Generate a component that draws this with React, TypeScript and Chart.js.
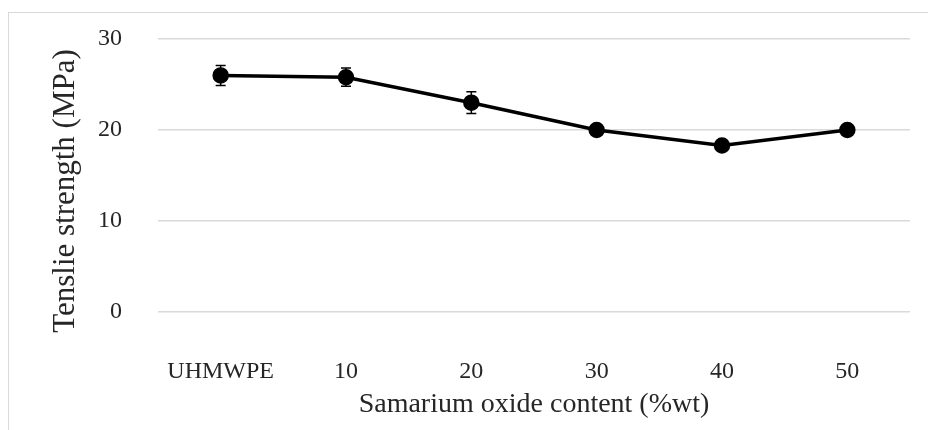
import React, { useEffect, useRef } from "react";
import { Chart, registerables } from "chart.js";

Chart.register(...registerables);

const categories = ["UHMWPE", "10", "20", "30", "40", "50"];
const strength = [26.0, 25.8, 23.0, 20.0, 18.3, 20.0];
const errors = [1.1, 1.0, 1.2, 0.5, 0.4, 0.5];
const yTicks = [0, 10, 20, 30];
const yTitle = "Tenslie strength (MPa)";
const xTitle = "Samarium oxide content (%wt)";

const FONT = "'Liberation Serif', 'Times New Roman', serif";

const errorBarPlugin = {
  id: "errorBars",
  beforeDatasetsDraw(chart: any) {
    const { ctx } = chart;
    const yScale = chart.scales.y;
    const meta = chart.getDatasetMeta(0);
    ctx.save();
    ctx.strokeStyle = "#000";
    ctx.lineWidth = 1.5;
    meta.data.forEach((pt: any, i: number) => {
      const x = pt.x;
      const yTop = yScale.getPixelForValue(strength[i] + errors[i]);
      const yBot = yScale.getPixelForValue(strength[i] - errors[i]);
      ctx.beginPath();
      ctx.moveTo(x, yTop);
      ctx.lineTo(x, yBot);
      ctx.moveTo(x - 5, yTop);
      ctx.lineTo(x + 5, yTop);
      ctx.moveTo(x - 5, yBot);
      ctx.lineTo(x + 5, yBot);
      ctx.stroke();
    });
    ctx.restore();
  },
};

const yTitlePlugin = {
  id: "yTitle",
  afterDraw(chart: any) {
    const { ctx, chartArea } = chart;
    ctx.save();
    ctx.translate(66, chartArea.bottom - 121);
    ctx.rotate(-Math.PI / 2);
    ctx.font = `31px ${FONT}`;
    ctx.fillStyle = "#262626";
    ctx.textAlign = "center";
    ctx.textBaseline = "middle";
    ctx.fillText(yTitle, 0, 0);
    ctx.restore();
  },
};

export default function App() {
  const ref = useRef<HTMLCanvasElement | null>(null);
  useEffect(() => {
    if (!ref.current) return;
    const chart = new Chart(ref.current, {
      type: "line",
      data: {
        labels: categories,
        datasets: [
          {
            data: strength,
            borderColor: "#000",
            backgroundColor: "#000",
            borderWidth: 3.5,
            pointRadius: 6.5,
            pointBackgroundColor: "#000",
            pointBorderColor: "#000",
            tension: 0,
          },
        ],
      },
      options: {
        animation: false,
        responsive: false,
        maintainAspectRatio: false,
        layout: { padding: { left: 47.4, right: 18, top: 39, bottom: 9 } },
        plugins: { legend: { display: false }, tooltip: { enabled: false } },
        scales: {
          x: {
            offset: true,
            grid: { display: false, drawTicks: false },
            border: { display: false },
            afterFit: (axis: any) => {
              axis.height = 109;
            },
            ticks: {
              padding: 45,
              color: "#262626",
              font: { family: FONT, size: 24 },
            },
            title: {
              display: true,
              text: xTitle,
              color: "#262626",
              padding: { top: 0, bottom: 0 },
              font: { family: FONT, size: 28 },
            },
          },
          y: {
            min: 0,
            max: 30,
            afterBuildTicks: (axis: any) => {
              axis.ticks = yTicks.map((v) => ({ value: v }));
            },
            afterFit: (axis: any) => {
              axis.width = 110.6;
              axis.paddingTop = 0;
              axis.paddingBottom = 0;
            },
            grid: { color: "#d9d9d9", lineWidth: 1.5, drawTicks: false },
            border: { display: false },
            ticks: {
              padding: 36,
              color: "#262626",
              font: { family: FONT, size: 24 },
            },
          },
        },
      },
      plugins: [errorBarPlugin, yTitlePlugin],
    });
    return () => chart.destroy();
  }, []);
  return (
    <div style={{ position: "fixed", left: 0, top: 0, width: 928, height: 430, background: "#fff" }}>
      <div
        style={{
          position: "absolute",
          left: 8,
          top: 12,
          right: 0,
          bottom: 0,
          borderTop: "1.5px solid #d9d9d9",
          borderLeft: "1.5px solid #d9d9d9",
        }}
      />
      <canvas ref={ref} width={928} height={430} style={{ position: "absolute", left: 0, top: 0 }} />
    </div>
  );
}
